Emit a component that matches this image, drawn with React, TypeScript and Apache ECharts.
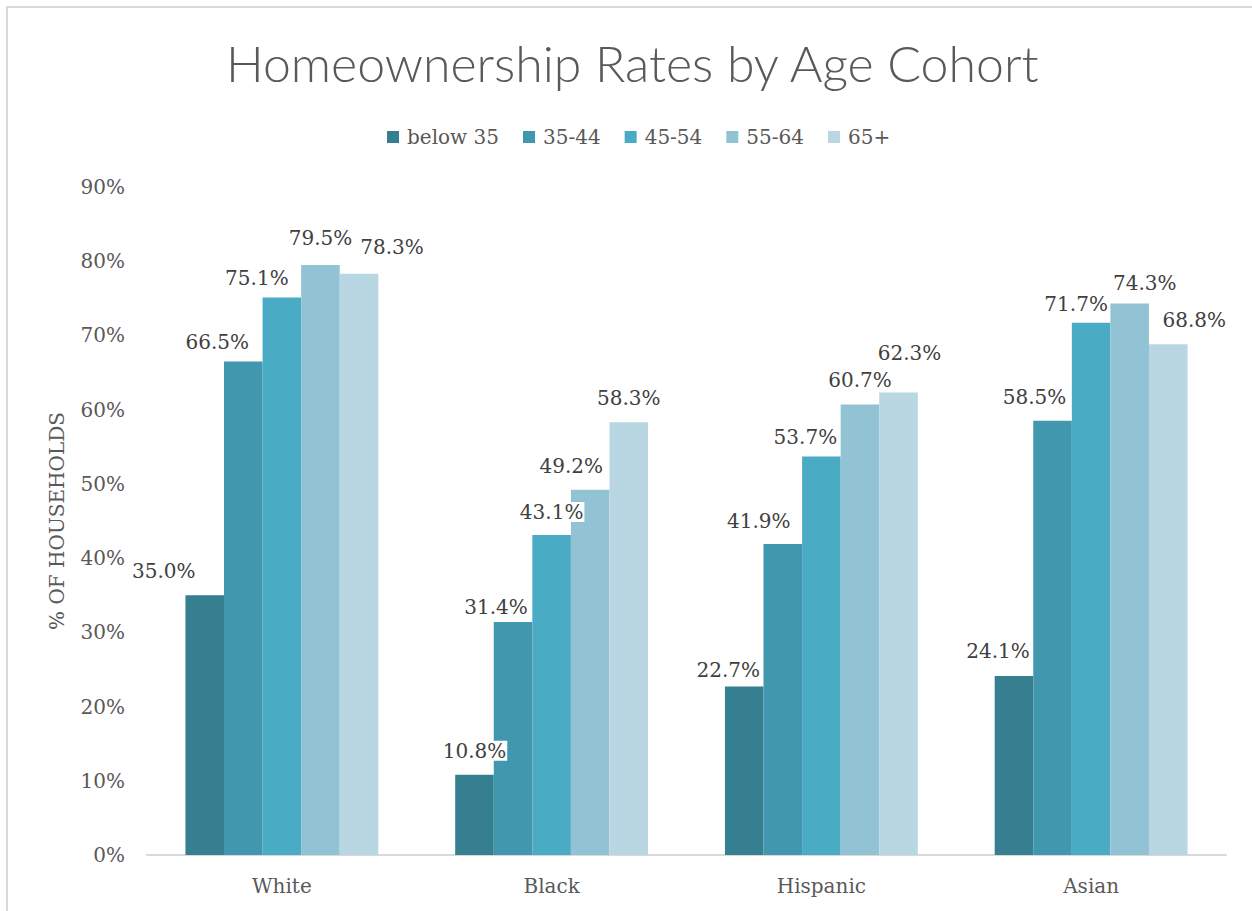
import React, { useEffect, useRef } from "react";
import * as echarts from "echarts";

const categories = ["White", "Black", "Hispanic", "Asian"];
const seriesNames = ["below 35", "35-44", "45-54", "55-64", "65+"];
const below35 = [35.0, 10.8, 22.7, 24.1];
const age35to44 = [66.5, 31.4, 41.9, 58.5];
const age45to54 = [75.1, 43.1, 53.7, 71.7];
const age55to64 = [79.5, 49.2, 60.7, 74.3];
const age65plus = [78.3, 58.3, 62.3, 68.8];
const yTicks = [0, 10, 20, 30, 40, 50, 60, 70, 80, 90];

const seriesValues = [below35, age35to44, age45to54, age55to64, age65plus];
const colors = ["#367f91", "#4197ae", "#4aabc5", "#92c3d4", "#b9d7e2"];

// label nudges [dx, dy] per series (rows) and category (columns), mimicking the reference placement
const labelNudges: number[][][] = [
  [[-41, -9], [0, -9], [-16, -2], [-16, -10]],
  [[-26, -4], [-17, 0], [-24, -8], [-18, -9]],
  [[-25, -5], [0, -8], [-16, -4], [-15, -4]],
  [[0, -12], [-19, -9], [0, -9], [15, -6]],
  [[33, -12], [0, -9], [11, -25], [26, -9]],
];

const serif = "'DejaVu Serif', serif";

export default function App() {
  const ref = useRef<HTMLDivElement>(null);
  useEffect(() => {
    if (!ref.current) return;
    const chart = echarts.init(ref.current, undefined, { renderer: "svg" });
    chart.setOption({
      animation: false,
      backgroundColor: "#ffffff",
      title: {
        text: "Homeownership Rates by Age Cohort",
        left: 221,
        top: 33,
        textStyle: {
          fontFamily: "Lato, sans-serif",
          fontWeight: 300,
          fontSize: 50,
          color: "#595959",
        },
      },
      legend: {
        data: seriesNames,
        top: 122,
        left: 382,
        itemWidth: 12,
        itemHeight: 12,
        itemGap: 24,
        textStyle: { fontFamily: serif, fontSize: 20, color: "#595959", padding: [0, 0, 0, 3] },
        icon: "rect",
      },
      graphic: [
        {
          type: "rect",
          shape: { x: 7, y: 7, width: 1300, height: 1000 },
          style: { fill: "none", stroke: "#d9d9d9", lineWidth: 2 },
          silent: true,
        },
      ],
      grid: { left: 147, right: 26, top: 187, bottom: 56 },
      xAxis: {
        type: "category",
        data: categories,
        axisLine: { lineStyle: { color: "#d9d9d9", width: 2 } },
        axisTick: { show: false },
        axisLabel: { fontFamily: serif, fontSize: 20, color: "#595959", margin: 21 },
      },
      yAxis: {
        type: "value",
        min: 0,
        max: 90,
        interval: 10,
        name: "% OF HOUSEHOLDS",
        nameLocation: "middle",
        nameGap: 80,
        nameTextStyle: { fontFamily: serif, fontSize: 20, color: "#595959" },
        splitLine: { show: false },
        axisLine: { show: false },
        axisTick: { show: false },
        axisLabel: {
          fontFamily: serif,
          fontSize: 20,
          color: "#595959",
          margin: 22,
          formatter: (v: number) => (yTicks.includes(v) ? `${v}%` : ""),
        },
      },
      series: seriesNames.map((name, si) => ({
        name,
        type: "bar",
        barGap: "0%",
        barCategoryGap: "28.5%",
        itemStyle: { color: colors[si] },
        data: seriesValues[si].map((v, ci) => ({
          value: v,
          label: { offset: labelNudges[si][ci] },
        })),
        label: {
          show: true,
          position: "top",
          distance: 5,
          fontFamily: serif,
          fontSize: 20,
          color: "#404040",
          backgroundColor: "#ffffff",
          padding: [0, 1],
          formatter: (p: any) => `${Number(p.value).toFixed(1)}%`,
        },
      })),
    });
    return () => chart.dispose();
  }, []);
  return (
    <div
      ref={ref}
      style={{ position: "absolute", left: 0, top: 0, width: 1252, height: 911 }}
    />
  );
}
